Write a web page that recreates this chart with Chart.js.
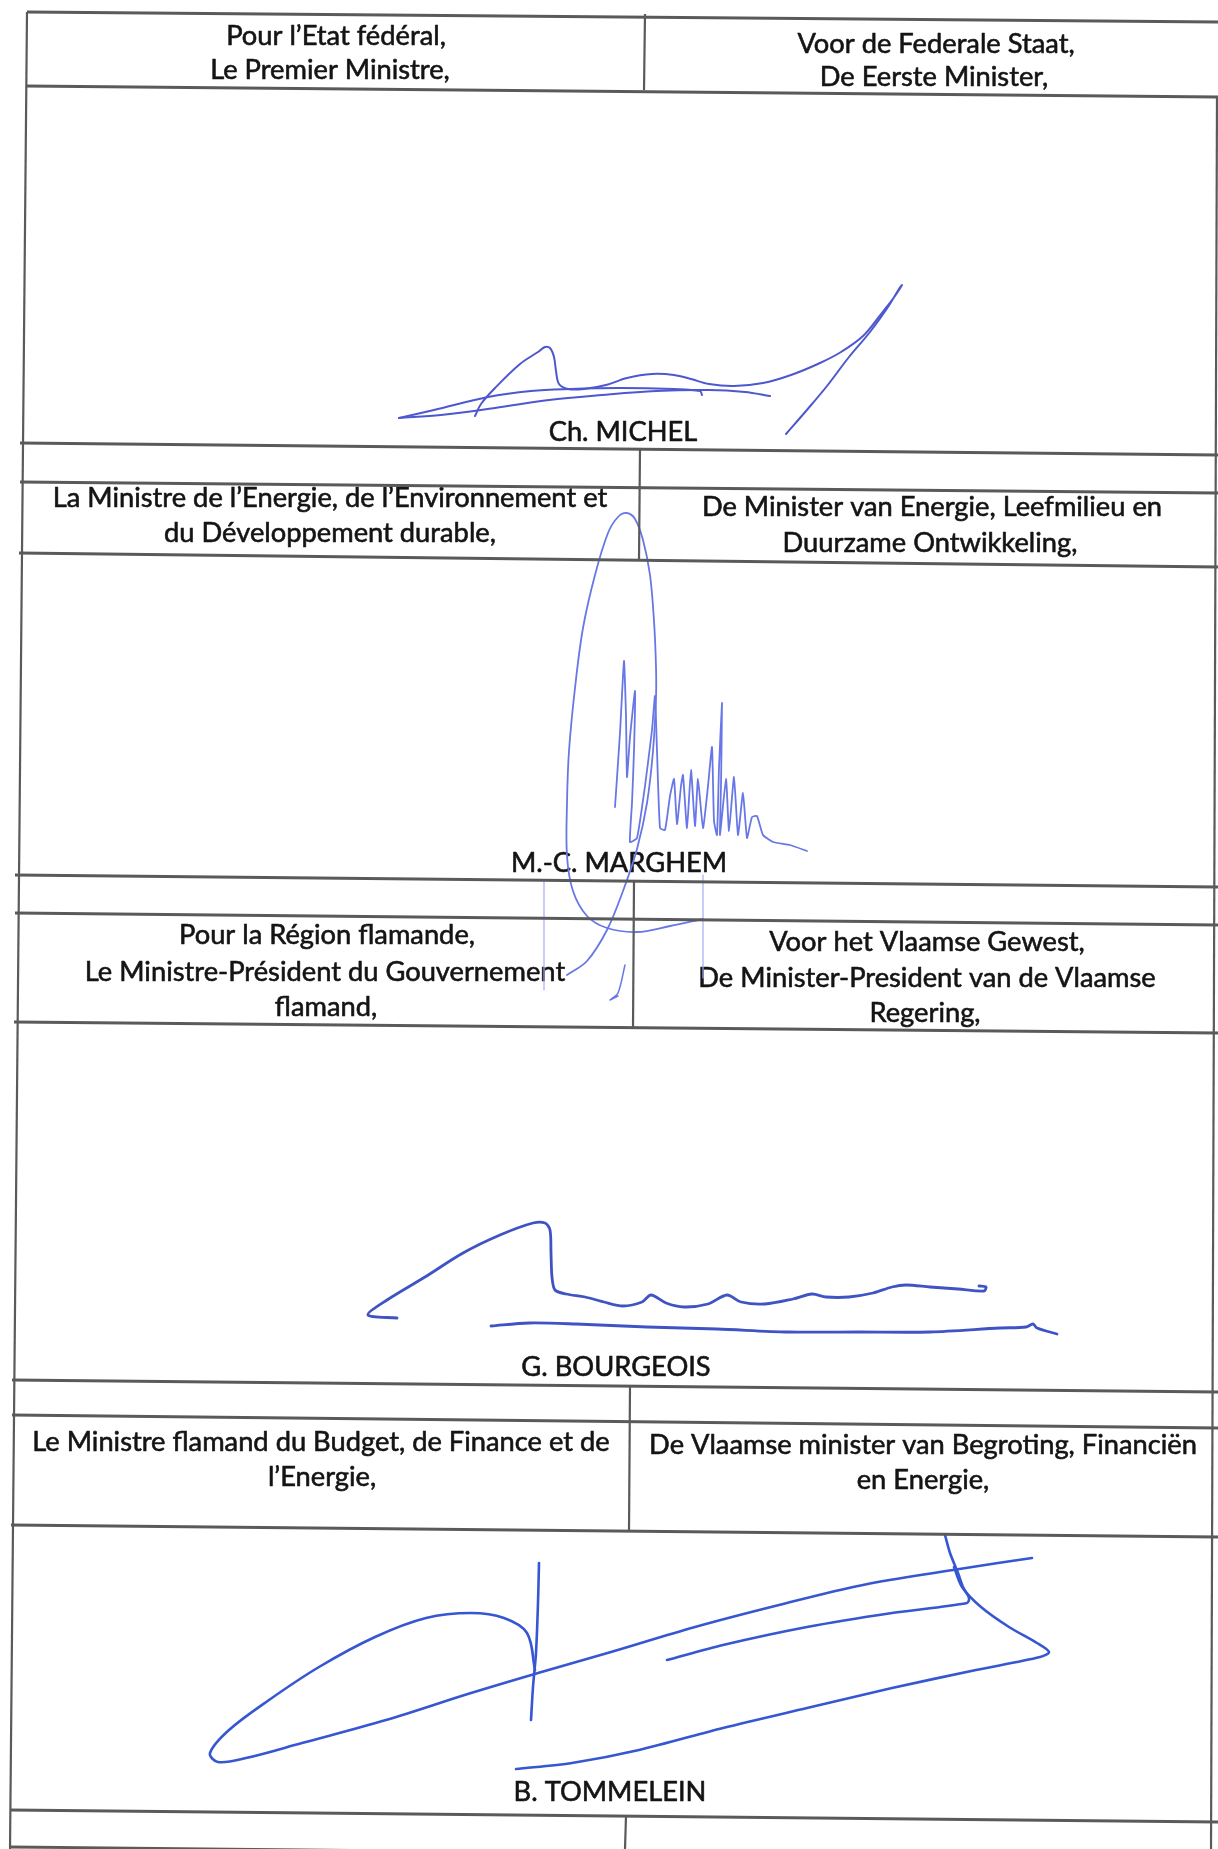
<!DOCTYPE html>
<html>
<head>
<meta charset="utf-8">
<script src="https://cdn.jsdelivr.net/npm/chart.js@4.4.1/dist/chart.umd.min.js"></script>
<style>
html,body{margin:0;padding:0;background:#ffffff;}
canvas{display:block;}
</style>
</head>
<body>
<canvas id="c" width="1218" height="1849"></canvas>
<script>
// ---------- table rules (page coordinates) ----------
const ruleStartX = [27, 26, 20, 20, 19, 15, 15, 14, 12, 12, 11, 10, 10];
const ruleStartY = [12, 86, 443, 482, 553, 875, 913, 1022, 1380, 1415, 1525, 1810, 1847];
const ruleEndY   = [22, 97, 455, 493, 567, 887, 925, 1033, 1392, 1428, 1537, 1822, 1859];

const dividerTopX    = [645, 640, 634, 630, 626];
const dividerTopY    = [14, 448, 881, 1386, 1816];
const dividerBottomX = [644, 639, 633, 629, 625];
const dividerBottomY = [90, 560, 1028, 1531, 1849];

const borderTopX    = [27, 1217];
const borderTopY    = [12, 96];
const borderBottomX = [10, 1211];
const borderBottomY = [1849, 1849];

// ---------- texts ----------
const textLines = [
  "Pour l’Etat fédéral,", "Le Premier Ministre,",
  "Voor de Federale Staat,", "De Eerste Minister,",
  "Ch. MICHEL",
  "La Ministre de l’Energie, de l’Environnement et", "du Développement durable,",
  "De Minister van Energie, Leefmilieu en", "Duurzame Ontwikkeling,",
  "M.-C. MARGHEM",
  "Pour la Région flamande,", "Le Ministre-Président du Gouvernement", "flamand,",
  "Voor het Vlaamse Gewest,", "De Minister-President van de Vlaamse", "Regering,",
  "G. BOURGEOIS",
  "Le Ministre flamand du Budget, de Finance et de", "l’Energie,",
  "De Vlaamse minister van Begroting, Financiën", "en Energie,",
  "B. TOMMELEIN"
];
const textX = [336, 330, 936, 934, 623, 330, 330, 932, 930, 619, 327, 325, 326, 927, 927, 925, 616, 321, 322, 923, 923, 610];
const textY = [36, 70, 44, 77, 432, 498, 533, 507, 543, 863, 935, 972, 1007, 942, 978, 1013, 1367, 1442, 1477, 1445, 1480, 1792];
// widths measured on the scan, used to size the substitute font
const calibText  = ["La Ministre de l’Energie, de l’Environnement et", "Le Ministre flamand du Budget, de Finance et de", "De Vlaamse minister van Begroting, Financiën"];
const calibWidth = [559, 577, 544];

// ---------- signatures (pen strokes, page coordinates) ----------
const michelStroke1 = [[399,418],[434,410],[488,397],[531,391],[570,389],[620,388],[674,389],[700,391],[702,395]];
const michelStroke2 = [[399,418],[441,415],[495,408],[549,400],[602,395],[656,391],[709,390],[745,392],[770,396]];
const michelStroke3 = [[475,416],[481,404],[495,388],[520,364],[538,352],[545,347],[550,348],[554,357],[556,371],[559,384],[568,389],[584,389],[606,385],[627,378],[652,374],[674,375],[691,379],[709,384],[734,386],[763,383],[791,375],[820,363],[841,352],[863,336],[881,314],[895,296],[902,285],[899,289],[888,307],[870,332],[849,357],[827,386],[806,411],[786,434]];

const marghemLoop = [[703,919],[670,926],[637,932],[607,928],[587,916],[573,891],[567,856],[567,803],[569,751],[575,688],[583,628],[595,575],[608,533],[618,517],[627,513],[635,519],[643,540],[650,575],[654,621],[656,667],[656,698],[653,751],[647,803],[637,849],[623,891],[607,930],[587,961],[567,975]];
const marghemName = [[615,807],[620,733],[624,661],[626,716],[627,777],[630,737],[635,691],[634,751],[632,803],[630,842],[637,838],[645,786],[652,730],[655,696],[657,751],[660,828],[665,830],[670,796],[674,779],[677,824],[681,786],[683,775],[687,828],[691,770],[695,826],[698,779],[703,828],[708,786],[712,747],[714,821],[717,835],[719,768],[722,703],[721,786],[720,835],[726,779],[729,831],[734,777],[738,835],[743,793],[747,838],[752,817],[757,816],[763,835],[773,842],[790,845],[807,851]];
const marghemHook = [[625,965],[618,993],[610,1000],[618,996]];
const marghemFaintA = [[544,880],[544,990]];
const marghemFaintB = [[703,875],[703,978]];

const bourgeoisStroke1 = [[397,1318],[368,1315],[387,1300],[425,1277],[463,1253],[500,1235],[533,1223],[545,1223],[550,1230],[551,1253],[552,1277],[555,1290],[566,1294],[585,1297],[604,1302],[623,1306],[642,1302],[651,1295],[666,1303],[684,1307],[708,1304],[727,1295],[741,1302],[765,1304],[793,1299],[812,1294],[826,1297],[849,1297],[873,1293],[892,1287],[906,1285],[930,1287],[958,1289],[984,1291],[986,1287],[979,1286]];
const bourgeoisStroke2 = [[491,1326],[529,1323],[576,1324],[647,1327],[717,1329],[788,1332],[859,1332],[930,1332],[1000,1328],[1026,1327],[1033,1324],[1037,1328],[1057,1334]];

const tommeleinStroke1 = [[535,1670],[527,1633],[504,1618],[471,1613],[426,1618],[375,1637],[319,1667],[269,1700],[229,1730],[210,1753],[218,1762],[246,1758],[302,1743],[386,1720],[471,1693],[538,1673],[611,1652],[695,1627],[779,1605],[863,1585],[953,1570],[998,1563],[1032,1558]];
const tommeleinStroke2 = [[539,1563],[538,1603],[536,1653],[533,1687],[531,1720]];
const tommeleinStroke3 = [[667,1660],[723,1645],[807,1627],[892,1613],[967,1603],[969,1598],[963,1587],[958,1573],[950,1553],[945,1535]];
const tommeleinStroke4 = [[954,1567],[962,1587],[981,1607],[1009,1627],[1037,1643],[1049,1652],[1040,1657],[976,1670],[892,1688],[807,1708],[723,1728],[639,1750],[572,1763],[516,1769]];

// ---------- build ----------
const PAGE_W = 1218, PAGE_H = 1849;
const ruleColor = '#5a5a5a';

function pts(arr){ return arr.map(p => ({x:p[0], y:p[1]})); }
function seg(x0,y0,x1,y1){ return [{x:x0,y:y0},{x:x1,y:y1}]; }

function build(){
  const datasets = [];
  for (let i = 0; i < ruleStartY.length; i++) {
    datasets.push({data: seg(ruleStartX[i], ruleStartY[i], PAGE_W, ruleEndY[i]),
      borderColor: ruleColor, borderWidth: 2.8, showLine: true, pointRadius: 0, tension: 0});
  }
  for (let i = 0; i < dividerTopX.length; i++) {
    datasets.push({data: seg(dividerTopX[i], dividerTopY[i], dividerBottomX[i], dividerBottomY[i]),
      borderColor: ruleColor, borderWidth: 2.2, showLine: true, pointRadius: 0, tension: 0});
  }
  for (let i = 0; i < borderTopX.length; i++) {
    datasets.push({data: seg(borderTopX[i], borderTopY[i], borderBottomX[i], borderBottomY[i]),
      borderColor: ruleColor, borderWidth: 2.2, showLine: true, pointRadius: 0, tension: 0});
  }
  const sig = (arr, color, width, tension) => ({data: pts(arr), borderColor: color, borderWidth: width,
      showLine: true, pointRadius: 0, tension: tension, borderCapStyle: 'round', borderJoinStyle: 'round'});
  datasets.push(sig(michelStroke1, '#4d58cf', 2.0, 0.35));
  datasets.push(sig(michelStroke2, '#4d58cf', 2.0, 0.35));
  datasets.push(sig(michelStroke3, '#4d58cf', 2.0, 0.35));
  datasets.push(sig(marghemFaintA, '#a3adf5', 1.2, 0));
  datasets.push(sig(marghemFaintB, '#a3adf5', 1.2, 0));
  datasets.push(sig(marghemLoop, '#6877e6', 1.8, 0.35));
  datasets.push(sig(marghemName, '#6877e6', 1.8, 0.15));
  datasets.push(sig(marghemHook, '#6877e6', 1.5, 0.3));
  datasets.push(sig(bourgeoisStroke1, '#3f53c4', 2.8, 0.3));
  datasets.push(sig(bourgeoisStroke2, '#3f53c4', 2.8, 0.3));
  datasets.push(sig(tommeleinStroke1, '#3656d2', 2.6, 0.35));
  datasets.push(sig(tommeleinStroke2, '#3656d2', 2.6, 0.3));
  datasets.push(sig(tommeleinStroke3, '#3656d2', 2.6, 0.3));
  datasets.push(sig(tommeleinStroke4, '#3656d2', 2.6, 0.3));

  const canvas = document.getElementById('c');
  const mctx = canvas.getContext('2d');
  const family = 'Lato, "Open Sans", "DejaVu Sans", sans-serif';
  let sum = 0;
  for (let i = 0; i < calibText.length; i++) {
    mctx.font = '100px ' + family;
    sum += calibWidth[i] / mctx.measureText(calibText[i]).width * 100;
  }
  const fontSize = sum / calibText.length;

  const textPlugin = {
    id: 'pageText',
    beforeDraw(chart) {
      const c = chart.ctx;
      c.save();
      c.fillStyle = '#ffffff';
      c.fillRect(0, 0, chart.width, chart.height);
      c.restore();
    },
    beforeDatasetsDraw(chart) {
      const c = chart.ctx, sx = chart.scales.x, sy = chart.scales.y;
      c.save();
      c.fillStyle = '#141414';
      c.strokeStyle = '#141414';
      c.lineWidth = 0.6;
      c.lineJoin = 'round';
      c.textAlign = 'center';
      c.textBaseline = 'middle';
      c.font = fontSize.toFixed(2) + 'px ' + family;
      for (let i = 0; i < textLines.length; i++) {
        const px = sx.getPixelForValue(textX[i]), py = sy.getPixelForValue(textY[i]);
        c.fillText(textLines[i], px, py);
        c.strokeText(textLines[i], px, py);
      }
      c.restore();
    }
  };

  new Chart(canvas, {
    type: 'scatter',
    data: {datasets},
    options: {
      responsive: false,
      animation: false,
      events: [],
      layout: {padding: 0},
      plugins: {legend: {display: false}, tooltip: {enabled: false}},
      scales: {
        x: {type: 'linear', min: 0, max: PAGE_W, display: false},
        y: {type: 'linear', min: 0, max: PAGE_H, reverse: true, display: false}
      },
      elements: {line: {capBezierPoints: false}}
    },
    plugins: [textPlugin]
  });
}

if (document.fonts && document.fonts.load) {
  Promise.all([document.fonts.load('24px Lato')]).then(build, build);
} else {
  build();
}
</script>
</body>
</html>
